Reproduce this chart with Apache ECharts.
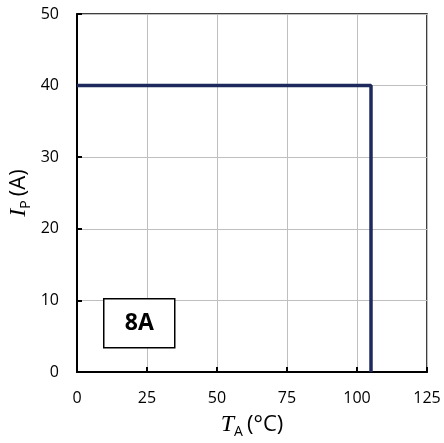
<!DOCTYPE html>
<html><head><meta charset="utf-8">
<script src="https://cdn.jsdelivr.net/npm/echarts@6/dist/echarts.min.js"></script>
<style>html,body{margin:0;padding:0;background:#fff}#c{width:444px;height:443px}</style>
</head><body><div id="c"></div>
<script>
const xTicks = [0, 25, 50, 75, 100, 125];
const yTicks = [0, 10, 20, 30, 40, 50];
const derateT = [0, 105, 105];
const derateI = [40, 40, 0];
const boxLabel = '8A';

const chart = echarts.init(document.getElementById('c'));
const sans = "'Open Sans','Liberation Sans',sans-serif";
const nameRich = {
  t: {fontFamily: "'Liberation Serif',serif", fontStyle: 'italic', fontSize: 24, color: '#000'},
  s: {fontFamily: sans, fontSize: 14, color: '#000', padding: [14, 4, 0, 0]},
  n: {fontFamily: sans, fontSize: 22, color: '#000'}
};
chart.setOption({
  animation: false,
  grid: {left: 77, top: 14, right: 17, bottom: 71, show: true, borderColor: '#000', borderWidth: 1.5,
         containLabel: false, outerBoundsMode: 'none'},
  xAxis: {
    type: 'value', min: xTicks[0], max: xTicks[xTicks.length-1], interval: 25,
    axisLine: {lineStyle: {color: '#000', width: 2}},
    axisTick: {inside: true, length: 5, lineStyle: {color: '#000', width: 2}},
    axisLabel: {fontFamily: sans, fontSize: 16, color: '#000', margin: 18},
    splitLine: {lineStyle: {color: '#bfbfbf', width: 1}},
    name: '{t|T}{s|A}{n|(°C)}', nameLocation: 'middle', nameGap: 39,
    nameTextStyle: {rich: nameRich}
  },
  yAxis: {
    type: 'value', min: yTicks[0], max: yTicks[yTicks.length-1], interval: 10,
    axisLine: {lineStyle: {color: '#000', width: 2}},
    axisTick: {inside: true, length: 5, lineStyle: {color: '#000', width: 2}},
    axisLabel: {fontFamily: sans, fontSize: 16, color: '#000', margin: 18},
    splitLine: {lineStyle: {color: '#bfbfbf', width: 1}},
    name: '{t|I}{s|P}{n|(A)}', nameLocation: 'middle', nameGap: 44, nameMoveOverlap: false,
    nameTextStyle: {rich: nameRich}
  },
  series: [{
    type: 'line', data: derateT.map((t, i) => [t, derateI[i]]),
    showSymbol: false, lineStyle: {color: '#1f2a5c', width: 3.5}
  }],
  graphic: [{
    type: 'group', left: 103, top: 298, z: 100,
    children: [
      {type: 'rect', z: 100, shape: {x: 0, y: 0, width: 71, height: 49}, style: {fill: '#fff', stroke: '#000', lineWidth: 1.5}},
      {type: 'text', z: 101, x: 35.5, y: 25, style: {text: boxLabel, fontFamily: sans, fontWeight: 'bold', fontSize: 23, fill: '#000', align: 'center', verticalAlign: 'middle'}}
    ]
  }]
});
</script></body></html>
